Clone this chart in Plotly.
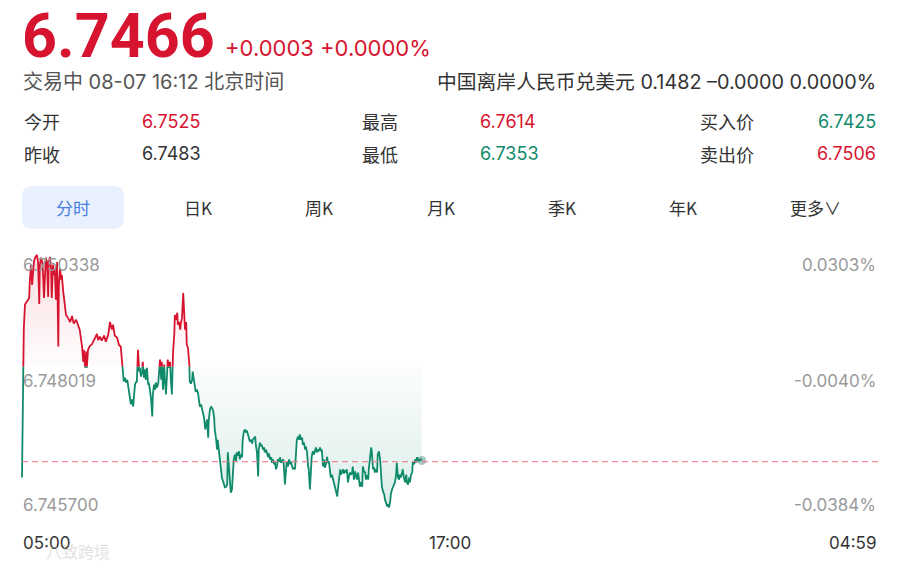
import plotly.graph_objects as go

W, H = 900, 568

# ---------------- data ----------------
# minutes since the 05:00 session open, and the quoted price at that minute
minutes = [
    0, 2, 3, 5, 8, 10, 12, 13, 15, 17,
    18, 20, 22, 24, 25, 27, 29, 30, 32, 34,
    35, 37, 39, 40, 42, 44, 45, 47, 49, 50,
    52, 54, 55, 57, 59, 61, 62, 64, 66, 67,
    69, 71, 74, 77, 81, 84, 87, 91, 94, 97,
    101, 103, 104, 106, 108, 109, 111, 114, 118, 121,
    124, 126, 128, 131, 134, 138, 141, 145, 148, 150,
    151, 153, 156, 160, 163, 166, 168, 170, 171, 173,
    175, 177, 178, 180, 182, 183, 185, 187, 188, 190,
    192, 193, 195, 197, 198, 200, 202, 203, 205, 207,
    208, 210, 212, 213, 215, 217, 219, 220, 222, 224,
    225, 227, 229, 230, 232, 234, 235, 237, 239, 240,
    242, 244, 245, 247, 249, 250, 252, 254, 256, 257,
    259, 261, 262, 264, 266, 267, 269, 271, 272, 274,
    276, 277, 279, 281, 282, 284, 286, 287, 289, 291,
    292, 294, 296, 299, 301, 303, 304, 306, 308, 309,
    311, 313, 314, 316, 318, 319, 321, 323, 324, 326,
    328, 329, 331, 333, 335, 336, 338, 340, 341, 343,
    345, 346, 348, 350, 351, 353, 355, 356, 358, 360,
    361, 363, 365, 366, 368, 370, 371, 373, 375, 377,
    378, 380, 382, 383, 385, 387, 388, 390, 392, 393,
    395, 397, 398, 400, 402, 403, 405, 407, 408, 410,
    412, 414, 415, 417, 419, 420, 422, 424, 425, 427,
    429, 430, 432, 434, 435, 437, 439, 440, 442, 444,
    445, 447, 449, 451, 452, 454, 456, 457, 459, 461,
    462, 464, 466, 467, 469, 471, 472, 474, 476, 477,
    479, 481, 482, 484, 486, 487, 489, 491, 493, 494,
    496, 498, 499, 501, 503, 504, 506, 508, 509, 511,
    513, 514, 516, 518, 519, 521, 523, 524, 526, 528,
    530, 531, 533, 535, 536, 538, 540, 541, 543, 545,
    546, 548, 550, 551, 553, 555, 556, 558, 560, 561,
    563, 565, 566, 568, 570, 572, 573, 575, 577, 578,
    580, 582, 583, 585, 587, 588, 590, 592, 593, 595,
    597, 598, 600, 602, 603, 605, 607, 609, 610, 612,
    614, 615, 617, 619, 620, 622, 624, 625, 627, 629,
    630, 632, 634, 635, 637, 639, 640, 642, 644, 646,
    647, 649, 651, 652, 654, 656, 657, 659, 661, 662,
    664, 666, 667, 669, 671, 672,
]
prices = [
    6.74626, 6.74846, 6.74897, 6.74943, 6.74948, 6.74952, 6.74955, 6.74983, 6.75016, 6.74979,
    6.75003, 6.75021, 6.75029, 6.75032, 6.75034, 6.75021, 6.74944, 6.75016, 6.75029, 6.75021,
    6.75007, 6.74955, 6.75010, 6.75029, 6.75021, 6.74957, 6.75021, 6.75030, 6.75007, 6.74955,
    6.75016, 6.74997, 6.75010, 6.74952, 6.75021, 6.74866, 6.74979, 6.75010, 6.74988, 6.74997,
    6.74970, 6.74952, 6.74924, 6.74919, 6.74911, 6.74922, 6.74908, 6.74915, 6.74904, 6.74897,
    6.74866, 6.74838, 6.74860, 6.74827, 6.74857, 6.74827, 6.74860, 6.74867, 6.74871, 6.74878,
    6.74882, 6.74889, 6.74878, 6.74884, 6.74877, 6.74886, 6.74875, 6.74888, 6.74911, 6.74904,
    6.74897, 6.74906, 6.74886, 6.74882, 6.74869, 6.74866, 6.74842, 6.74805, 6.74802, 6.74809,
    6.74800, 6.74805, 6.74798, 6.74783, 6.74772, 6.74760, 6.74769, 6.74756, 6.74772, 6.74796,
    6.74802, 6.74800, 6.74860, 6.74820, 6.74827, 6.74811, 6.74820, 6.74838, 6.74809, 6.74824,
    6.74805, 6.74827, 6.74796, 6.74800, 6.74787, 6.74769, 6.74738, 6.74778, 6.74796, 6.74787,
    6.74800, 6.74791, 6.74798, 6.74809, 6.74842, 6.74805, 6.74838, 6.74787, 6.74833, 6.74809,
    6.74778, 6.74820, 6.74842, 6.74827, 6.74838, 6.74809, 6.74778, 6.74857, 6.74888, 6.74924,
    6.74915, 6.74928, 6.74906, 6.74911, 6.74897, 6.74908, 6.74919, 6.74964, 6.74943, 6.74897,
    6.74911, 6.74869, 6.74864, 6.74842, 6.74802, 6.74798, 6.74805, 6.74820, 6.74802, 6.74791,
    6.74783, 6.74787, 6.74780, 6.74756, 6.74760, 6.74750, 6.74745, 6.74736, 6.74714, 6.74723,
    6.74732, 6.74699, 6.74732, 6.74750, 6.74756, 6.74754, 6.74750, 6.74736, 6.74714, 6.74699,
    6.74677, 6.74695, 6.74674, 6.74653, 6.74641, 6.74626, 6.74619, 6.74611, 6.74608, 6.74609,
    6.74613, 6.74672, 6.74641, 6.74604, 6.74598, 6.74604, 6.74641, 6.74659, 6.74668, 6.74655,
    6.74672, 6.74666, 6.74674, 6.74659, 6.74668, 6.74663, 6.74695, 6.74710, 6.74714, 6.74708,
    6.74712, 6.74705, 6.74699, 6.74692, 6.74695, 6.74688, 6.74695, 6.74699, 6.74701, 6.74686,
    6.74672, 6.74628, 6.74677, 6.74690, 6.74683, 6.74686, 6.74677, 6.74681, 6.74672, 6.74677,
    6.74668, 6.74663, 6.74670, 6.74659, 6.74663, 6.74653, 6.74659, 6.74650, 6.74655, 6.74641,
    6.74648, 6.74659, 6.74655, 6.74663, 6.74653, 6.74657, 6.74659, 6.74650, 6.74613, 6.74641,
    6.74655, 6.74646, 6.74659, 6.74650, 6.74655, 6.74646, 6.74641, 6.74644, 6.74641, 6.74677,
    6.74695, 6.74701, 6.74695, 6.74705, 6.74695, 6.74699, 6.74686, 6.74690, 6.74677, 6.74683,
    6.74674, 6.74646, 6.74641, 6.74604, 6.74641, 6.74664, 6.74674, 6.74668, 6.74677, 6.74681,
    6.74672, 6.74677, 6.74674, 6.74681, 6.74674, 6.74677, 6.74646, 6.74659, 6.74644, 6.74650,
    6.74664, 6.74653, 6.74655, 6.74635, 6.74626, 6.74631, 6.74622, 6.74619, 6.74609, 6.74598,
    6.74591, 6.74604, 6.74622, 6.74641, 6.74631, 6.74637, 6.74641, 6.74633, 6.74639, 6.74635,
    6.74641, 6.74617, 6.74626, 6.74635, 6.74631, 6.74635, 6.74646, 6.74622, 6.74637, 6.74630,
    6.74622, 6.74635, 6.74622, 6.74609, 6.74617, 6.74609, 6.74646, 6.74637, 6.74635, 6.74622,
    6.74630, 6.74622, 6.74641, 6.74668, 6.74681, 6.74674, 6.74641, 6.74644, 6.74635, 6.74641,
    6.74635, 6.74668, 6.74674, 6.74659, 6.74631, 6.74609, 6.74600, 6.74595, 6.74586, 6.74580,
    6.74573, 6.74577, 6.74571, 6.74582, 6.74595, 6.74604, 6.74609, 6.74613, 6.74617, 6.74631,
    6.74653, 6.74626, 6.74622, 6.74631, 6.74626, 6.74635, 6.74641, 6.74626, 6.74617, 6.74631,
    6.74617, 6.74613, 6.74626, 6.74617, 6.74631, 6.74635, 6.74655, 6.74650, 6.74659, 6.74653,
    6.74663, 6.74655, 6.74659, 6.74657, 6.74659, 6.74657,
]
assert len(minutes) == len(prices)

base_price = 6.74829          # reference level: red above, green below
dash_level = 6.74655          # dashed reference line
session_end_min = 1439        # 04:59 next day

y_label_values = [6.750338, 6.748019, 6.745700]
y_labels_left = ["6.750338", "6.748019", "6.745700"]
y_labels_right = ["0.0303%", "-0.0040%", "-0.0384%"]
x_tick_labels = ["05:00", "17:00", "04:59"]

header_price = "6.7466"
header_change = "+0.0003 +0.0000%"
status_text = "交易中 08-07 16:12 北京时间"
pair_text = "中国离岸人民币兑美元 0.1482 –0.0000 0.0000%"
stats = [  # (label, value, value colour key)
    ("今开", "6.7525", "red"), ("最高", "6.7614", "red"), ("买入价", "6.7425", "green"),
    ("昨收", "6.7483", "dark"), ("最低", "6.7353", "green"), ("卖出价", "6.7506", "red"),
]
tabs = ["分时", "日K", "周K", "月K", "季K", "年K", "更多∨"]

# ---------------- styling / layout ----------------
RED = "#d7142f"
GREEN = "#0f8a6b"
DARK = "#333333"
GRAY = "#9a9a9a"
FONT = "Inter, 'Noto Sans CJK SC', sans-serif"
NUM = "Roboto, 'Noto Sans CJK SC', sans-serif"
CJK = "'Noto Sans CJK SC', Inter, sans-serif"
colour = {"red": RED, "green": GREEN, "dark": DARK}

# vertical calibration of the chart: top label value at px 255, bottom label value at px 508
v_top, v_bot = y_label_values[0], y_label_values[-1]
px_top, px_bot = 255.0, 508.0
ppu = (px_bot - px_top) / (v_top - v_bot)


def v2py(v):
    return px_top + (v_top - v) * ppu


py_base = v2py(base_price)
pane_a_top_px, pane_b_bot_px = 249.0, 516.0
range_a = [base_price, v_top + (px_top - pane_a_top_px) / ppu]
range_b = [v_bot - (pane_b_bot_px - px_bot) / ppu, base_price]
dom_a = [1 - py_base / H, 1 - pane_a_top_px / H]
dom_b = [1 - pane_b_bot_px / H, 1 - py_base / H]

# horizontal calibration: 05:00 at px 22, 04:59 at px 878
x_left_px, x_right_px = 22.0, 878.0
mpp = session_end_min / (x_right_px - x_left_px)
x_dom_left_px = 18.0
x_range = [-(x_left_px - x_dom_left_px) * mpp, session_end_min]
x_dom = [x_dom_left_px / W, x_right_px / W]

fig = go.Figure()

# red part (clipped to the pane above the base level)
fig.add_trace(go.Scatter(
    x=minutes, y=prices, xaxis="x", yaxis="y", mode="lines",
    line=dict(color=RED, width=1.8), fill="tozeroy",
    fillgradient=dict(type="vertical", start=base_price, stop=v_top,
                      colorscale=[[0, "rgba(215,20,47,0.01)"], [1, "rgba(215,20,47,0.14)"]]),
    hoverinfo="skip", showlegend=False,
))
# base level (for the green fill)
fig.add_trace(go.Scatter(
    x=[minutes[0], minutes[-1]], y=[base_price, base_price], xaxis="x", yaxis="y2",
    mode="lines", line=dict(width=0, color="rgba(0,0,0,0)"), hoverinfo="skip", showlegend=False,
))
# green part (clipped to the pane below the base level)
fig.add_trace(go.Scatter(
    x=minutes, y=prices, xaxis="x", yaxis="y2", mode="lines",
    line=dict(color=GREEN, width=1.8), fill="tonexty",
    fillgradient=dict(type="vertical", start=v_bot, stop=base_price,
                      colorscale=[[0, "rgba(15,138,107,0.15)"], [1, "rgba(15,138,107,0.015)"]]),
    hoverinfo="skip", showlegend=False,
))
# last point marker
fig.add_trace(go.Scatter(
    x=[minutes[-1]], y=[prices[-1]], xaxis="x", yaxis="y2", mode="markers",
    marker=dict(size=9, color="rgba(60,140,120,0.45)"), hoverinfo="skip", showlegend=False,
))

ax_common = dict(showgrid=False, zeroline=False, showticklabels=False, showline=False, ticks="")
fig.update_layout(
    width=W, height=H, margin=dict(l=0, r=0, t=0, b=0),
    paper_bgcolor="white", plot_bgcolor="rgba(0,0,0,0)",
    xaxis=dict(domain=x_dom, range=x_range, anchor="y2", **ax_common),
    yaxis=dict(domain=dom_a, range=range_a, anchor="x", **ax_common),
    yaxis2=dict(domain=dom_b, range=range_b, anchor="x", **ax_common),
    showlegend=False,
)

# dashed line
fig.add_shape(type="line", xref="x", yref="y2", x0=0, x1=session_end_min,
              y0=dash_level, y1=dash_level,
              line=dict(color="rgba(238,120,130,0.85)", width=1.2, dash="6px,4px"))


# tab highlight (rounded rect) in pixel -> paper
def rrect(x0, y0, x1, y1, r):
    X = lambda p: p / W
    Y = lambda p: 1 - p / H
    return (f"M {X(x0 + r)},{Y(y0)} L {X(x1 - r)},{Y(y0)} Q {X(x1)},{Y(y0)} {X(x1)},{Y(y0 + r)} "
            f"L {X(x1)},{Y(y1 - r)} Q {X(x1)},{Y(y1)} {X(x1 - r)},{Y(y1)} "
            f"L {X(x0 + r)},{Y(y1)} Q {X(x0)},{Y(y1)} {X(x0)},{Y(y1 - r)} "
            f"L {X(x0)},{Y(y0 + r)} Q {X(x0)},{Y(y0)} {X(x0 + r)},{Y(y0)} Z")


fig.add_shape(type="path", xref="paper", yref="paper", path=rrect(22, 186, 124, 229, 11),
              fillcolor="#e8f1fd", line=dict(width=0), layer="below")

ann = []


def A(text, px, py, size, color, xanchor="left", family=FONT, weight=None):
    f = dict(size=size, color=color, family=family)
    if weight:
        f["weight"] = weight
    ann.append(dict(text=text, x=px / W, y=1 - py / H, xref="paper", yref="paper",
                    xanchor=xanchor, yanchor="middle", showarrow=False, font=f))


A(header_price, 20, 36, 61, RED, family=NUM, weight=700)
A(header_change, 223, 48, 22, RED)
A(status_text, 21, 82, 20, "#555555")
A(pair_text, 878, 82, 19.8, DARK, xanchor="right")

col_label_px = [22, 360, 698]
col_value_px = [140, 478, None]
for i, (lab, val, ck) in enumerate(stats):
    row, col = divmod(i, 3)
    py = 121 if row == 0 else 154
    A(lab, col_label_px[col], py, 18, DARK, family=CJK)
    if col < 2:
        A(val, col_value_px[col], py, 18, colour[ck])
    else:
        A(val, 878, py, 18, colour[ck], xanchor="right")

tab_centers = [73, 198, 319, 441, 562, 683, 815]
for t, cx in zip(tabs, tab_centers):
    A(t, cx, 208, 17, "#4a7fe3" if t == "分时" else DARK, xanchor="center", family=CJK)

label_py = [265, 381, 505]
for lab, py in zip(y_labels_left, label_py):
    A(lab, 21, py, 17, GRAY)
for lab, py in zip(y_labels_right, label_py):
    A(lab, 878, py, 17, GRAY, xanchor="right")

A(x_tick_labels[0], 21, 543, 17, DARK)
A(x_tick_labels[1], 450, 543, 17, DARK, xanchor="center")
A(x_tick_labels[2], 878, 543, 17, DARK, xanchor="right")

A("八致跨境", 44, 551, 16, "rgba(200,200,200,0.55)", family=CJK)

fig.update_layout(annotations=ann)
fig.write_html(
    "out.html",
    config={"displayModeBar": False},
    post_script="document.body.style.margin='0';document.body.style.overflow='hidden';",
)
